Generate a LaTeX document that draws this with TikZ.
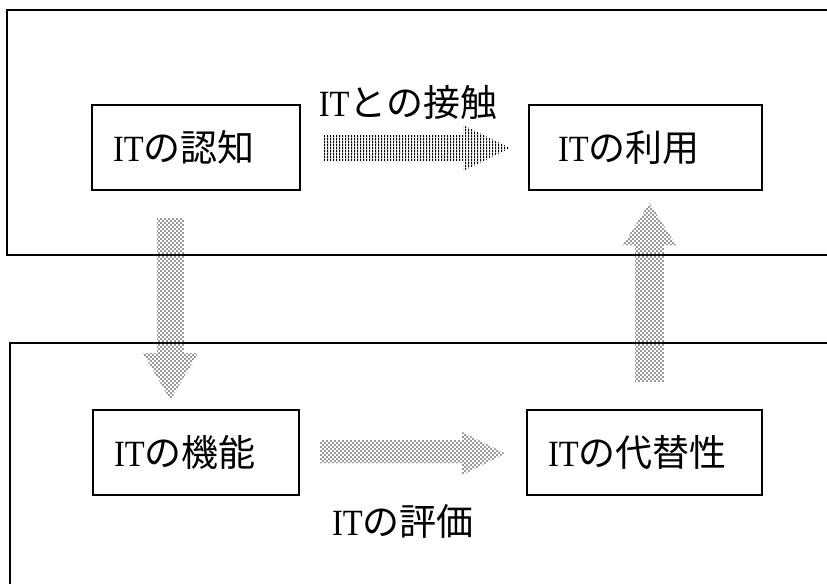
\documentclass[tikz,border=0pt]{standalone}
\usepackage{fontspec}
\setmainfont{Liberation Serif}
\newfontfamily\cjk{Noto Sans CJK JP}
\newfontfamily\latn[FakeStretch=0.88]{Liberation Serif}
\newcommand{\lab}[1]{{\latn IT}{\cjk #1}}
\usetikzlibrary{patterns}
\pgfdeclarepatternformonly{vstripes}{\pgfpointorigin}{\pgfqpoint{3pt}{3pt}}{\pgfqpoint{3pt}{3pt}}{%
  \pgfsetlinewidth{1.3pt}%
  \pgfpathmoveto{\pgfqpoint{0.7pt}{0pt}}\pgfpathlineto{\pgfqpoint{0.7pt}{3.1pt}}\pgfusepath{stroke}}
\pgfdeclarepatternformonly{halftone}{\pgfqpoint{-0.5pt}{-0.5pt}}{\pgfqpoint{4.5pt}{4.5pt}}{\pgfqpoint{4pt}{4pt}}{%
  \pgfpathcircle{\pgfqpoint{1pt}{1pt}}{0.85pt}%
  \pgfpathcircle{\pgfqpoint{3pt}{3pt}}{0.85pt}%
  \pgfusepath{fill}}
\begin{document}
\begin{tikzpicture}[x=1pt,y=-1pt,
  frame/.style={draw=black,line width=1.6pt},
  box/.style 2 args={draw=black,line width=1.6pt,text width=#1-2*#2,inner xsep=#2,inner ysep=0pt,align=left,minimum height=85pt,font=\fontsize{37}{40}\selectfont},
  lbl/.style={font=\fontsize{37}{40}\selectfont,inner sep=0pt},
  dotarrow/.style={pattern=halftone,pattern color=black!80},
  stripearrow/.style={pattern=vstripes,pattern color=black}]
\useasboundingbox (0,0) rectangle (827,584);
% frames
\draw[frame] (827,10) -- (7,10) -- (7,255) -- (827,255);
\draw[frame] (827,343) -- (10,343) -- (10,584);
% boxes
\node[box={208pt}{21pt}] (ninchi) at (196,147.5) {\lab{の認知}};
\node[box={233pt}{29pt}] (riyou) at (645.5,147.5) {\lab{の利用}};
\node[box={206pt}{21pt}] (kinou) at (196,452.5) {\lab{の機能}};
\node[box={235pt}{21pt}] (daitai) at (644.5,452.5) {\lab{の代替性}};
% labels
\node[lbl] (sesshoku) at (408,102) {\lab{との接触}};
\node[lbl] (hyouka) at (403,521) {\lab{の評価}};
% top arrow (striped)
\fill[stripearrow] (323,135) -- (463,135) -- (463,125) -- (510,148) -- (463,171) -- (463,161) -- (323,161) -- cycle;
% down arrow
\fill[dotarrow] (157,218) -- (184,218) -- (184,353) -- (198,353) -- (170.5,400) -- (143,353) -- (157,353) -- cycle;
% up arrow
\fill[dotarrow] (635,382) -- (664,382) -- (664,245) -- (676,245) -- (649.5,203) -- (623,245) -- (635,245) -- cycle;
% bottom arrow
\fill[dotarrow] (320,440) -- (462,440) -- (462,432) -- (505,453.5) -- (462,475) -- (462,463) -- (320,463) -- cycle;
\end{tikzpicture}
\end{document}
